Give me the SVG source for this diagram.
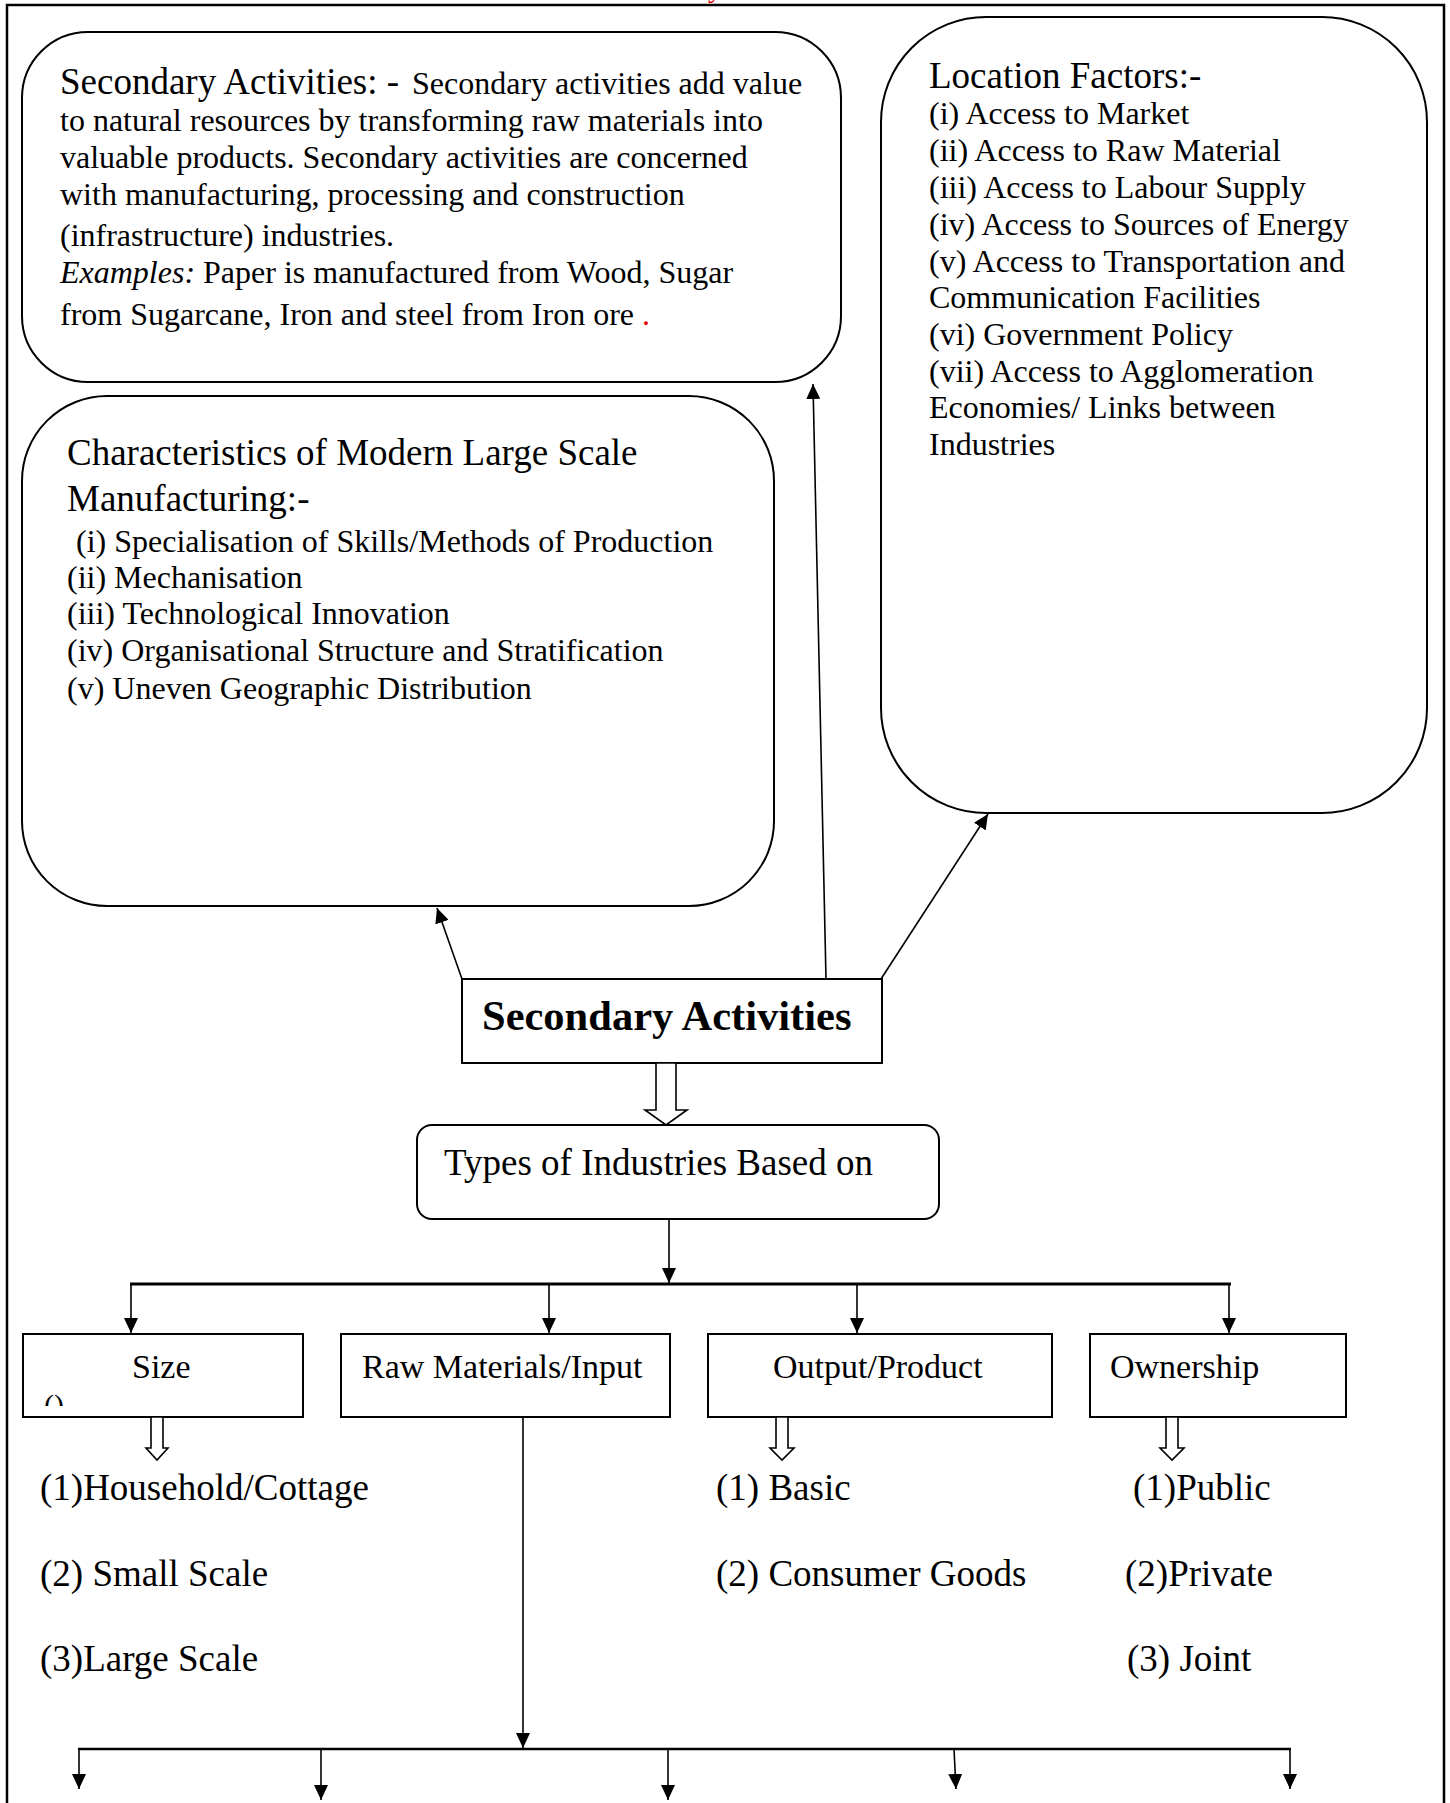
<svg xmlns="http://www.w3.org/2000/svg" width="1450" height="1803" viewBox="0 0 1450 1803">
<style>
text{font-family:"Liberation Serif","Times New Roman",serif;fill:#000}
.t37{font-size:37px}
.t32{font-size:32px}
.t34{font-size:34px}
.box{fill:#fff;stroke:#000;stroke-width:2}
.ln{fill:none;stroke:#000;stroke-width:1.6}
.hol{fill:#fff;stroke:#000;stroke-width:1.6}
</style>
<defs>
<marker id="ah" viewBox="0 0 15 14" markerWidth="15" markerHeight="14" refX="15" refY="7" orient="auto" markerUnits="userSpaceOnUse">
<path d="M0,0 L15,7 L0,14 z" fill="#000"/>
</marker>
<clipPath id="szclip"><rect x="23" y="1334" width="280" height="72"/></clipPath>
</defs>
<rect width="1450" height="1803" fill="#fff"/>
<path d="M7,1810 L7,5 L1444,5 L1444,1810" fill="none" stroke="#000" stroke-width="2.5"/>
<text x="708" y="-3" style="font-size:28px;fill:#e00000">y</text>

<g id="node-definition">
<rect class="box" x="22" y="32" width="819" height="350" rx="66" ry="66"/>
<text x="60" y="94" class="t37">Secondary Activities: - <tspan x="412" class="t32">Secondary activities add value</tspan></text>
<text x="60" y="131" class="t32">to natural resources by transforming raw materials into</text>
<text x="60" y="168" class="t32">valuable products. Secondary activities are concerned</text>
<text x="60" y="205" class="t32">with manufacturing, processing and construction</text>
<text x="60" y="246" class="t32">(infrastructure) industries.</text>
<text x="60" y="283" class="t32"><tspan font-style="italic">Examples:</tspan> Paper is manufactured from Wood, Sugar</text>
<text x="60" y="325" class="t32">from Sugarcane, Iron and steel from Iron ore <tspan style="fill:#e00000">.</tspan></text>
</g>

<g id="node-location">
<rect class="box" x="881" y="17" width="546" height="796" rx="105" ry="105"/>
<text x="929" y="88" class="t37">Location Factors:-</text>
<text x="929" y="124" class="t32">(i) Access to Market</text>
<text x="929" y="161" class="t32">(ii) Access to Raw Material</text>
<text x="929" y="198" class="t32">(iii) Access to Labour Supply</text>
<text x="929" y="235" class="t32">(iv) Access to Sources of Energy</text>
<text x="929" y="272" class="t32">(v) Access to Transportation and</text>
<text x="929" y="308" class="t32">Communication Facilities</text>
<text x="929" y="345" class="t32">(vi) Government Policy</text>
<text x="929" y="382" class="t32">(vii) Access to Agglomeration</text>
<text x="929" y="418" class="t32">Economies/ Links between</text>
<text x="929" y="455" class="t32">Industries</text>
</g>

<g id="node-characteristics">
<rect class="box" x="22" y="396" width="752" height="510" rx="85" ry="85"/>
<text x="67" y="465" class="t37">Characteristics of Modern Large Scale</text>
<text x="67" y="511" class="t37">Manufacturing:-</text>
<text x="76" y="552" class="t32">(i) Specialisation of Skills/Methods of Production</text>
<text x="67" y="588" class="t32">(ii) Mechanisation</text>
<text x="67" y="624" class="t32">(iii) Technological Innovation</text>
<text x="67" y="661" class="t32">(iv) Organisational Structure and Stratification</text>
<text x="67" y="699" class="t32">(v) Uneven Geographic Distribution</text>
</g>

<g id="node-secondary">
<rect class="box" x="462" y="979" width="420" height="84"/>
<text x="482" y="1030" style="font-size:42.5px;font-weight:bold">Secondary Activities</text>
</g>

<g id="node-types">
<rect class="box" x="417" y="1125" width="522" height="94" rx="15" ry="15"/>
<text x="444" y="1175" class="t37">Types of Industries Based on</text>
</g>

<g id="node-size">
<rect class="box" x="23" y="1334" width="280" height="83"/>
<text x="132" y="1378" class="t34">Size</text>
<text x="44" y="1415" clip-path="url(#szclip)" style="font-size:30px">()</text>
</g>
<g id="node-raw">
<rect class="box" x="341" y="1334" width="329" height="83"/>
<text x="362" y="1378" class="t34">Raw Materials/Input</text>
</g>
<g id="node-output">
<rect class="box" x="708" y="1334" width="344" height="83"/>
<text x="773" y="1378" class="t34">Output/Product</text>
</g>
<g id="node-ownership">
<rect class="box" x="1090" y="1334" width="256" height="83"/>
<text x="1110" y="1378" class="t34">Ownership</text>
</g>

<g id="list-size">
<text x="40" y="1500" class="t37">(1)Household/Cottage</text>
<text x="40" y="1586" class="t37">(2) Small Scale</text>
<text x="40" y="1671" class="t37">(3)Large Scale</text>
</g>
<g id="list-output">
<text x="716" y="1500" class="t37">(1) Basic</text>
<text x="716" y="1586" class="t37">(2) Consumer Goods</text>
</g>
<g id="list-ownership">
<text x="1133" y="1500" class="t37">(1)Public</text>
<text x="1125" y="1586" class="t37">(2)Private</text>
<text x="1127" y="1671" class="t37">(3) Joint</text>
</g>

<g id="connectors">
<line class="ln" x1="462" y1="979" x2="437" y2="908" marker-end="url(#ah)"/>
<line class="ln" x1="826" y1="979" x2="813" y2="384" marker-end="url(#ah)"/>
<line class="ln" x1="881" y1="979" x2="988" y2="814" marker-end="url(#ah)"/>
<polygon class="hol" points="656,1063 676,1063 676,1110 687,1110 666,1125 645,1110 656,1110"/>
<line class="ln" x1="669" y1="1219" x2="669" y2="1283" marker-end="url(#ah)"/>
<line x1="130" y1="1284" x2="1231" y2="1284" stroke="#000" stroke-width="3"/>
<line class="ln" x1="131" y1="1284" x2="131" y2="1333" marker-end="url(#ah)"/>
<line class="ln" x1="549" y1="1284" x2="549" y2="1333" marker-end="url(#ah)"/>
<line class="ln" x1="857" y1="1284" x2="857" y2="1333" marker-end="url(#ah)"/>
<line class="ln" x1="1229" y1="1284" x2="1229" y2="1333" marker-end="url(#ah)"/>
<polygon class="hol" points="151,1417 163,1417 163,1448 168,1448 157,1460 146,1448 151,1448"/>
<polygon class="hol" points="776,1417 788,1417 788,1448 794,1448 782,1460 770,1448 776,1448"/>
<polygon class="hol" points="1166,1417 1178,1417 1178,1448 1184,1448 1172,1460 1160,1448 1166,1448"/>
<line class="ln" x1="523" y1="1417" x2="523" y2="1748" marker-end="url(#ah)"/>
<line x1="78" y1="1749" x2="1291" y2="1749" stroke="#000" stroke-width="2.5"/>
<line class="ln" x1="79" y1="1749" x2="79" y2="1789" marker-end="url(#ah)"/>
<line class="ln" x1="321" y1="1749" x2="321" y2="1800" marker-end="url(#ah)"/>
<line class="ln" x1="668" y1="1749" x2="668" y2="1800" marker-end="url(#ah)"/>
<line class="ln" x1="954" y1="1749" x2="956" y2="1789" marker-end="url(#ah)"/>
<line class="ln" x1="1290" y1="1749" x2="1290" y2="1789" marker-end="url(#ah)"/>
</g>
</svg>
